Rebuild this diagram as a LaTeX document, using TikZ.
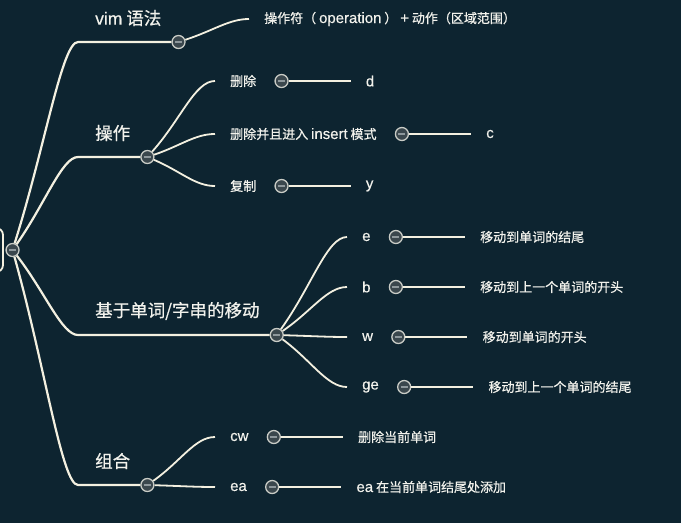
\documentclass[tikz,border=0pt]{standalone}
\usepackage{fontspec}
\setmainfont{Noto Sans CJK SC}[FakeBold=0.6,UprightFeatures={FakeBold=0.6}]
\newfontfamily\latin{Liberation Sans}[Scale=1.15,UprightFeatures={FakeBold=0.4}]
\newfontfamily\latintopic{Liberation Sans}[UprightFeatures={FakeBold=0.4}]
\usetikzlibrary{positioning,calc}
\definecolor{bg}{HTML}{0D2430}
\definecolor{wire}{HTML}{F3F0E0}
\definecolor{fg}{HTML}{F2F2EC}
\definecolor{foldrim}{HTML}{C9CCC6}
\definecolor{foldbg}{HTML}{3A474D}
\definecolor{foldbar}{HTML}{8E989C}
\begin{document}
\begin{tikzpicture}[x=1pt,y=-1pt,every node/.style={text=fg},
  topic/.style={font=\fontsize{17.5}{20}\selectfont,inner xsep=17pt,inner ysep=2pt,anchor=west},
  sub/.style={font=\fontsize{13}{16}\selectfont,inner xsep=15pt,inner ysep=2pt,anchor=west},
  fold/.style={circle,draw=foldrim,fill=foldbg,line width=1.3pt,minimum size=13pt,inner sep=0pt,
    path picture={\draw[foldbar,line width=2pt] ([xshift=-3.5pt]path picture bounding box.center) -- ([xshift=3.5pt]path picture bounding box.center);}},
  trunk/.style={draw=wire,line width=2.2pt},
  twig/.style={draw=wire,line width=1.8pt}]
\useasboundingbox (0,0) rectangle (681,523);
\fill[bg] (0,0) rectangle (681,523);
% root, mostly off the page
\node[draw=wire,line width=1.8pt,rounded corners=7pt,minimum width=80pt,minimum height=44pt] (root) at (-37,250) {};
\node[fold,right=1.5pt of root] (rootfold) {};
% vim syntax
\coordinate (vimbend) at (78,42);
\node[topic] (vim) at (78,18) {{\latintopic vim} 语法};
\node[fold] (vimfold) at (vim.east |- vimbend) {};
\node[sub] (vimleaf) at (249,19) {操作符（ {\latin operation} ） {\latin +} 动作（区域范围）};
\draw[trunk] (rootfold) .. controls ($(rootfold)!.5!(vimbend)$) and +(-16,0) .. (vimbend) -- (vimfold);
\draw[twig] (vimfold) .. controls ($(vimfold)!.5!(vimleaf.west)$) and +(-20,0) .. (vimleaf.west);
% operations
\coordinate (opbend) at (78,157);
\node[topic] (op) at (78,133) {操作};
\node[fold] (opfold) at (op.east |- opbend) {};
\draw[trunk] (rootfold) .. controls ($(rootfold)!.5!(opbend)$) and +(-16,0) .. (opbend) -- (opfold);
\foreach \name/\key/\yy [count=\i] in {删除/d/81, 删除并且进入 {\latin insert} 模式/c/134, 复制/y/186} {
  \node[sub] (op\i) at (215,\yy) {\name};
  \node[fold,right=3pt of op\i] (opfold\i) {};
  \node[sub,right=62pt of opfold\i] (opleaf\i) {\latin\key};
  \draw[twig] (opfold) .. controls ($(opfold)!.5!(op\i.west)$) and +(-20,0) .. (op\i.west);
  \draw[twig] (opfold\i) -- (opleaf\i);
}
% motions by word / string
\coordinate (mvbend) at (78,335);
\node[topic] (mv) at (78,311) {基于单词/字串的移动};
\node[fold] (mvfold) at (mv.east |- mvbend) {};
\draw[trunk] (rootfold) .. controls ($(rootfold)!.5!(mvbend)$) and +(-16,0) .. (mvbend) -- (mvfold);
\foreach \key/\desc/\yy [count=\i] in {e/移动到单词的结尾/237, b/移动到上一个单词的开头/287, w/移动到单词的开头/337, ge/移动到上一个单词的结尾/387} {
  \node[sub] (mv\i) at (347,\yy) {\latin\key};
  \node[fold,right=3pt of mv\i] (mvfold\i) {};
  \node[sub,right=62pt of mvfold\i] (mvleaf\i) {\desc};
  \draw[twig] (mvfold) .. controls ($(mvfold)!.5!(mv\i.west)$) and +(-20,0) .. (mv\i.west);
  \draw[twig] (mvfold\i) -- (mvleaf\i);
}
% combinations
\coordinate (cbbend) at (78,485);
\node[topic] (cb) at (78,461) {组合};
\node[fold] (cbfold) at (cb.east |- cbbend) {};
\draw[trunk] (rootfold) .. controls ($(rootfold)!.5!(cbbend)$) and +(-16,0) .. (cbbend) -- (cbfold);
\foreach \key/\desc/\yy [count=\i] in {cw/删除当前单词/437, ea/{\latin ea} 在当前单词结尾处添加/487} {
  \node[sub] (cb\i) at (215,\yy) {\latin\key};
  \node[fold,right=3pt of cb\i] (cbfold\i) {};
  \node[sub,right=62pt of cbfold\i] (cbleaf\i) {\desc};
  \draw[twig] (cbfold) .. controls ($(cbfold)!.5!(cb\i.west)$) and +(-20,0) .. (cb\i.west);
  \draw[twig] (cbfold\i) -- (cbleaf\i);
}
\end{tikzpicture}
\end{document}
